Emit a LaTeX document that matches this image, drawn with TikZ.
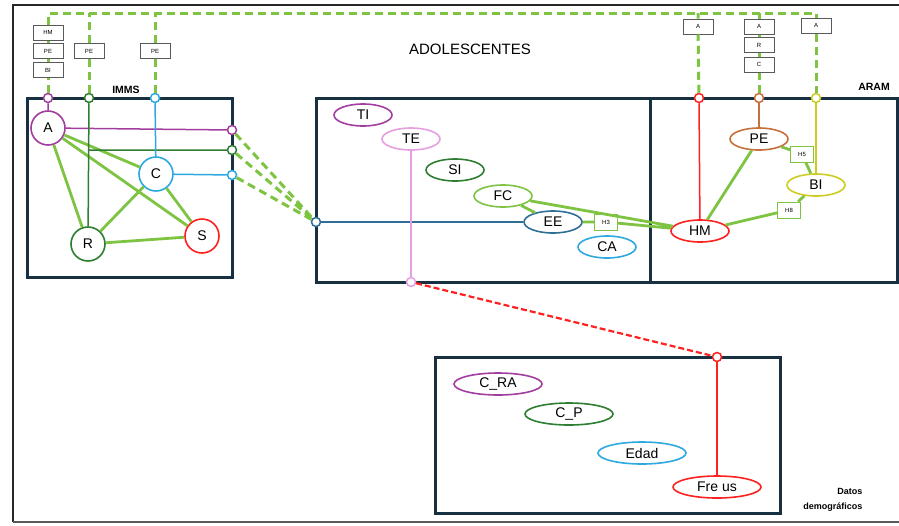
\documentclass[tikz,border=0pt]{standalone}
\usepackage{fontspec}
\setmainfont{Liberation Sans}
\usetikzlibrary{shapes.geometric}

\definecolor{frm}{HTML}{173042}
\definecolor{lgreen}{HTML}{7EC342}
\definecolor{cpurple}{HTML}{A33EA1}
\definecolor{dgreen}{HTML}{2E7D32}
\definecolor{cblue}{HTML}{2EA8E0}
\definecolor{cred}{HTML}{FF2020}
\definecolor{cpink}{HTML}{E6A0E0}
\definecolor{csteel}{HTML}{2F6F95}
\definecolor{corange}{HTML}{C8703C}
\definecolor{cyellow}{HTML}{CCCC22}

\begin{document}
\begin{tikzpicture}[x=1pt,y=-1pt,
 box/.style={draw=frm,line width=3pt},
 var/.style={draw,ellipse,fill=white,line width=1.6pt,minimum width=58pt,minimum height=22pt,inner sep=0pt,font=\fontsize{14}{16}\selectfont},
 wide/.style={var,minimum width=88pt},
 fac/.style={draw,circle,fill=white,line width=1.6pt,minimum size=34pt,inner sep=0pt,font=\fontsize{14}{16}\selectfont},
 port/.style={draw,circle,fill=white,line width=1.5pt,minimum size=9pt,inner sep=0pt},
 tag/.style={draw=black!65,line width=1pt,minimum width=30pt,minimum height=15pt,inner sep=0pt,font=\fontsize{6}{7}\selectfont},
 hyp/.style={draw=lgreen,fill=white,line width=1pt,minimum width=23pt,minimum height=16pt,inner sep=0pt,font=\fontsize{6}{7}\selectfont},
 link/.style={lgreen,line width=2.8pt},
 ext/.style={lgreen,line width=3pt,dash pattern=on 8pt off 5pt},
 thin/.style={line width=1.5pt},
 title/.style={font=\bfseries\fontsize{10.5}{12}\selectfont}]
\useasboundingbox (0,0) rectangle (899,525);

% outer frame
\draw[black!85,line width=1.5pt] (899,5) -- (13,5) -- (13,522);
\draw[black!65,line width=1.5pt] (13,522) -- (899,522);

% blocks
\draw[box] (27,98) rectangle (232,277);
\draw[box] (316,98) rectangle (650,282);
\draw[box] (650,98) rectangle (897,282);
\draw[box] (435,357) rectangle (780,513);

\node[title] (imms) at (126,90) {IMMS};
\node[title] (aram) at (874,87) {ARAM};
\node[font=\fontsize{15}{18}\selectfont] (adol) at (470,49) {ADOLESCENTES};
\node[title,font=\bfseries\fontsize{9}{15}\selectfont,align=right,anchor=east] (datos) at (866,500) {Datos\\demográficos};

% IMMS
\node[fac,draw=cpurple] (A) at (48,128) {A};
\node[fac,draw=cblue] (C) at (156,174) {C};
\node[fac,draw=dgreen] (R) at (88,244) {R};
\node[fac,draw=cred] (S) at (202,236) {S};

% adolescentes
\node[var,draw=cpurple] (TI) at (363,115) {TI};
\node[var,draw=cpink] (TE) at (411,139) {TE};
\node[var,draw=dgreen] (SI) at (455,170) {SI};
\node[var,draw=lgreen] (FC) at (503,196) {FC};
\node[var,draw=csteel] (EE) at (553,222) {EE};
\node[var,draw=cblue] (CA) at (607,247) {CA};
\node[hyp] (H3) at (606,222) {H3};

% ARAM
\node[var,draw=corange] (PE) at (759,139) {PE};
\node[var,draw=cyellow] (BI) at (816,185) {BI};
\node[var,draw=cred] (HM) at (700,231) {HM};
\node[hyp] (H5) at (802,154) {H5};
\node[hyp] (H8) at (789,210) {H8};

% datos demograficos
\node[wide,draw=cpurple] (CRA) at (498,384) {C\_RA};
\node[wide,draw=dgreen] (CP) at (569,414) {C\_P};
\node[wide,draw=cblue] (Edad) at (642,453) {Edad};
\node[wide,draw=cred] (Fre) at (717,487) {Fre us};

% tags
\node[tag] (tHM) at (48,32.5) {HM};
\node[tag] (tPE1) at (48,51) {PE};
\node[tag] (tBI) at (48,70) {BI};
\node[tag] (tPE2) at (89,51) {PE};
\node[tag] (tPE3) at (155,51) {PE};
\node[tag] (tA1) at (698,26.5) {A};
\node[tag] (tA2) at (759,26.5) {A};
\node[tag] (tR) at (759,45) {R};
\node[tag] (tC) at (759,64.5) {C};
\node[tag] (tA3) at (816,25.5) {A};
\coordinate (topL) at (48,13);
\coordinate (topR) at (816,13);

% connectors
\draw[link] (A) -- (C) (A) -- (S) (A) -- (R) (C) -- (R) (C) -- (S) (R) -- (S);
\draw[link] (FC) -- (EE) (FC) -- (HM) (EE) -- (H3) -- (HM);
\draw[link] (PE) -- (HM) (PE) -- (H5) -- (BI) (HM) -- (H8) -- (BI);

\node[port,draw=cpurple] (pA) at (48,98) {};
\node[port,draw=dgreen] (pR) at (89,98) {};
\node[port,draw=cblue] (pC) at (155,98) {};
\node[port,draw=cpurple] (pAr) at (232,130) {};
\node[port,draw=dgreen] (pDr) at (232,150) {};
\node[port,draw=cblue] (pCr) at (232,175) {};
\node[port,draw=csteel] (pIn) at (316,222) {};
\node[port,draw=cpink] (pTE) at (411,282) {};
\node[port,draw=cred] (pHM) at (699,98) {};
\node[port,draw=corange] (pPE) at (759,98) {};
\node[port,draw=cyellow] (pBI) at (816,98) {};
\node[port,draw=cred] (pFr) at (717,357) {};

\draw[thin,cpurple] (pA) -- (A) (A) -- (pAr);
\draw[thin,dgreen] (pR) -- (R) (pR |- pDr) -- (pDr);
\draw[thin,cblue] (pC) -- (C) (C) -- (pCr);
\draw[thin,csteel] (pIn) -- (EE);
\draw[thin,cpink] (TE) -- (pTE);
\draw[thin,cred] (pHM) -- (HM);
\draw[thin,corange] (pPE) -- (PE);
\draw[thin,cyellow] (pBI) -- (BI);
\draw[thin,cred] (pFr) -- (Fre);
\draw[cred,line width=2.2pt,dash pattern=on 6pt off 3pt] (pTE) -- (pFr);

\draw[ext] (pAr) -- (pIn) (pDr) -- (pIn) (pCr) -- (pIn);
\draw[ext] (pA) -- (tBI) -- (tPE1) -- (tHM) -- (topL) -- (topR) -- (tA3) -- (pBI);
\draw[ext] (pR) -- (tPE2) -- (tPE2 |- topL);
\draw[ext] (pC) -- (tPE3) -- (tPE3 |- topL);
\draw[ext] (pHM) -- (tA1) -- (tA1 |- topL);
\draw[ext] (pPE) -- (tC) -- (tR) -- (tA2) -- (tA2 |- topL);
\end{tikzpicture}
\end{document}
